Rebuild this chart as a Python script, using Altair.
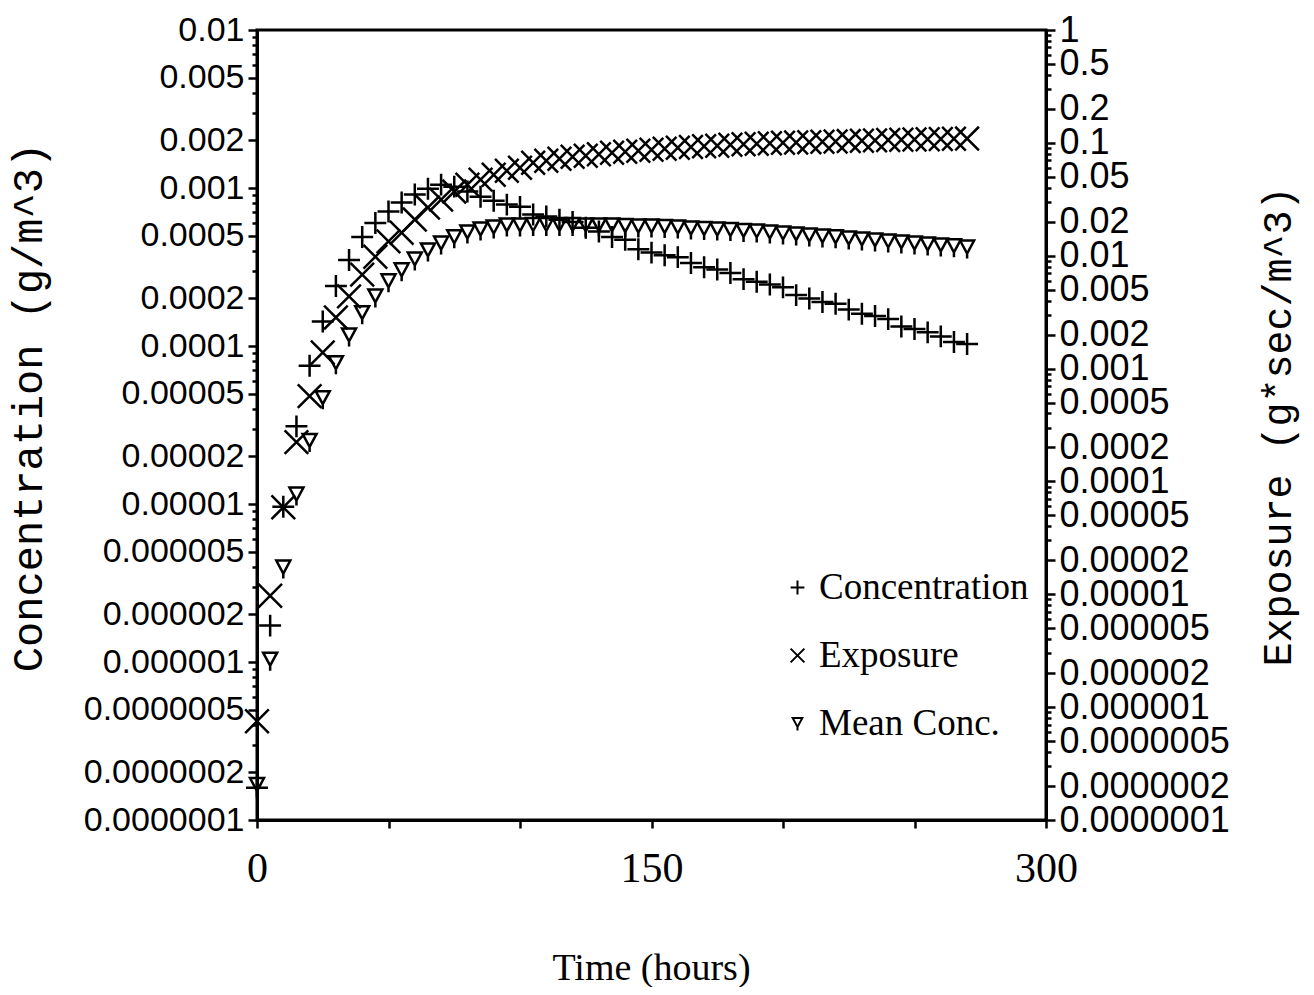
import json
import altair as alt
import pandas as pd

# ---------------- data ----------------
times = list(range(0, 275, 5))  # hours

concentration = [
    1.6e-7, 1.7e-6, 9.6e-6, 3.1e-5, 7.5e-5, 1.43e-4, 2.4e-4, 3.5e-4, 4.9e-4, 6.0e-4,
    7.1e-4, 8.1e-4, 9.1e-4, 9.9e-4, 1.05e-3, 1.02e-3, 9.5e-4, 8.8e-4, 8.3e-4, 7.85e-4,
    7.6e-4, 6.8e-4, 6.6e-4, 6.3e-4, 6.1e-4, 5.6e-4, 5.3e-4, 4.9e-4, 4.7e-4, 4.1e-4,
    3.9e-4, 3.75e-4, 3.65e-4, 3.35e-4, 3.15e-4, 3.05e-4, 2.9e-4, 2.65e-4, 2.55e-4, 2.45e-4,
    2.35e-4, 2.1e-4, 2.0e-4, 1.9e-4, 1.85e-4, 1.7e-4, 1.6e-4, 1.55e-4, 1.48e-4, 1.33e-4,
    1.28e-4, 1.22e-4, 1.15e-4, 1.06e-4, 1.03e-4,
]

exposure = [
    7.5e-7, 9.7e-6, 5.9e-5, 2.23e-4, 5.7e-4, 1.39e-3, 2.84e-3, 4.36e-3, 6.8e-3, 9.8e-3,
    1.34e-2, 1.60e-2, 2.09e-2, 2.67e-2, 3.14e-2, 3.70e-2, 4.26e-2, 4.72e-2, 5.22e-2, 5.66e-2,
    6.02e-2, 6.67e-2, 6.95e-2, 7.23e-2, 7.53e-2, 7.69e-2, 7.93e-2, 8.17e-2, 8.34e-2, 8.51e-2,
    8.69e-2, 8.87e-2, 9.05e-2, 9.18e-2, 9.33e-2, 9.42e-2, 9.62e-2, 9.72e-2, 9.82e-2, 9.91e-2,
    1.002e-1, 1.008e-1, 1.014e-1, 1.023e-1, 1.028e-1, 1.037e-1, 1.044e-1, 1.052e-1, 1.059e-1, 1.065e-1,
    1.07e-1, 1.076e-1, 1.081e-1, 1.087e-1, 1.091e-1,
]

mean_conc = [
    1.64e-7, 1.02e-6, 3.9e-6, 1.13e-5, 2.47e-5, 4.61e-5, 7.67e-5, 1.15e-4, 1.59e-4, 2.03e-4,
    2.53e-4, 2.97e-4, 3.48e-4, 3.97e-4, 4.39e-4, 4.80e-4, 5.15e-4, 5.38e-4, 5.54e-4, 5.71e-4,
    5.71e-4, 5.75e-4, 5.75e-4, 5.75e-4, 5.75e-4, 5.71e-4, 5.71e-4, 5.71e-4, 5.66e-4, 5.62e-4,
    5.62e-4, 5.58e-4, 5.54e-4, 5.46e-4, 5.42e-4, 5.38e-4, 5.34e-4, 5.27e-4, 5.23e-4, 5.15e-4,
    5.08e-4, 5.01e-4, 4.93e-4, 4.86e-4, 4.80e-4, 4.72e-4, 4.66e-4, 4.59e-4, 4.52e-4, 4.46e-4,
    4.39e-4, 4.33e-4, 4.27e-4, 4.21e-4, 4.14e-4,
]

series_names = ["Concentration", "Exposure", "Mean Conc."]

x_tick_values = [0, 50, 100, 150, 200, 250, 300]
x_label_values = [0, 150, 300]

left_major = [float(f"{m}e{k}") for k in range(-7, -2) for m in (1, 2, 5)] + [0.01]
left_minor = [float(f"{m}e{k}") for k in range(-7, -2) for m in (3, 4, 6, 7, 8, 9)]
right_major = [float(f"{m}e{k}") for k in range(-7, 0) for m in (1, 2, 5)] + [1.0]
right_minor = [float(f"{m}e{k}") for k in range(-7, 0) for m in (3, 4, 6, 7, 8, 9)]

# ---------------- tables ----------------
n = len(times)
conc_df = pd.DataFrame({"t": times, "v": concentration, "series": [series_names[0]] * n})
exp_df = pd.DataFrame({"t": times, "v": exposure, "series": [series_names[1]] * n})
mean_df = pd.DataFrame({"t": times, "v": mean_conc, "series": [series_names[2]] * n})

shape_paths = [
    "M-1,0L1,0M0,-1L0,1",
    "M-1,-1L1,1M-1,1L1,-1",
    "M-0.7,-0.8L0.7,-0.8L0,0.5ZM0,0.5L0,1",
]


def is_major(vals):
    return f"indexof({json.dumps(vals)}, datum.value) >= 0"


AXIS_LABEL_FONT = "Liberation Sans, Arial, sans-serif"
SERIF = "Liberation Serif, Times New Roman, serif"
MONO = "Liberation Mono, Courier New, monospace"

x_enc = alt.X(
    "t:Q",
    scale=alt.Scale(domain=[0, 300], nice=False, zero=False),
    axis=alt.Axis(
        title="Time (hours)",
        values=x_tick_values,
        labelExpr=f"indexof({json.dumps(x_label_values)}, datum.value) >= 0 ? datum.label : ''",
        labelFlush=False,
        labelFont=SERIF,
        labelFontSize=42,
        labelPadding=20,
        tickSize=8,
        tickWidth=2.5,
        titleFont=SERIF,
        titleFontSize=38,
        titleFontWeight="normal",
        titleBaseline="middle",
        titleX=394,
        titleY=148,
    ),
)

left_axis = alt.Axis(
    orient="left",
    title="Concentration (g/m^3)",
    values=left_major + left_minor,
    labelExpr=f"{is_major(left_major)} ? format(datum.value, '.7~f') : ''",
    labelOverlap=False,
    labelBound=False,
    labelFlush=False,
    labelLimit=0,
    labelFont=AXIS_LABEL_FONT,
    labelFontSize=34,
    labelPadding=4,
    tickSize={"condition": {"test": is_major(left_major), "value": 9}, "value": 5},
    tickWidth=2.5,
    titleFont=MONO,
    titleFontSize=42,
    titleFontWeight="normal",
    titleAngle=270,
    titleAlign="center",
    titleBaseline="middle",
    titleX=-229,
    titleY=377,
)

right_axis = alt.Axis(
    orient="right",
    title="Exposure (g*sec/m^3)",
    values=right_major + right_minor,
    labelExpr=f"{is_major(right_major)} ? format(datum.value, '.7~f') : ''",
    labelOverlap=False,
    labelBound=False,
    labelFlush=False,
    labelLimit=0,
    labelFont=AXIS_LABEL_FONT,
    labelFontSize=36,
    labelPadding=4,
    tickSize={"condition": {"test": is_major(right_major), "value": 9}, "value": 5},
    tickWidth=2.5,
    titleFont=MONO,
    titleFontSize=40,
    titleFontWeight="normal",
    titleAngle=270,
    titleAlign="center",
    titleBaseline="middle",
    titleX=232,
    titleY=396,
)

legend = alt.Legend(
    title=None,
    orient="none",
    legendX=522,
    legendY=539,
    labelFont=SERIF,
    labelFontSize=37,
    labelColor="black",
    labelLimit=0,
    labelOffset=3,
    symbolSize=190,
    symbolStrokeWidth=2,
    symbolStrokeColor="black",
    symbolFillColor="transparent",
    rowPadding=30,
    padding=0,
)

shape_enc = alt.Shape("series:N", scale=alt.Scale(domain=series_names, range=shape_paths), legend=legend)
left_y = alt.Y("v:Q", scale=alt.Scale(type="log", domain=[1e-7, 0.01], nice=False), axis=left_axis)
right_y = alt.Y("v:Q", scale=alt.Scale(type="log", domain=[1e-7, 1], nice=False), axis=right_axis)

mark_style = dict(filled=False, color="black", strokeWidth=2.5, opacity=1)

conc_layer = alt.Chart(conc_df).mark_point(size=480, **mark_style).encode(x=x_enc, y=left_y, shape=shape_enc)
mean_layer = alt.Chart(mean_df).mark_point(size=400, **mark_style).encode(x=x_enc, y=left_y, shape=shape_enc)
exp_layer = alt.Chart(exp_df).mark_point(size=560, **mark_style).encode(x=x_enc, y=right_y, shape=shape_enc)

left_group = alt.layer(conc_layer, mean_layer)

chart = (
    alt.layer(left_group, exp_layer)
    .resolve_scale(y="independent")
    .properties(
        width=789,
        height=790,
        padding={"left": 249, "top": 22, "right": 260, "bottom": 167},
        autosize=alt.AutoSizeParams(type="none"),
        background="white",
    )
    .configure_view(stroke="black", strokeWidth=3)
    .configure_axis(
        domainColor="black",
        domainWidth=3,
        tickColor="black",
        labelColor="black",
        titleColor="black",
        grid=False,
    )
)

chart.save("out.html", embed_options={"renderer": "svg", "actions": False})
